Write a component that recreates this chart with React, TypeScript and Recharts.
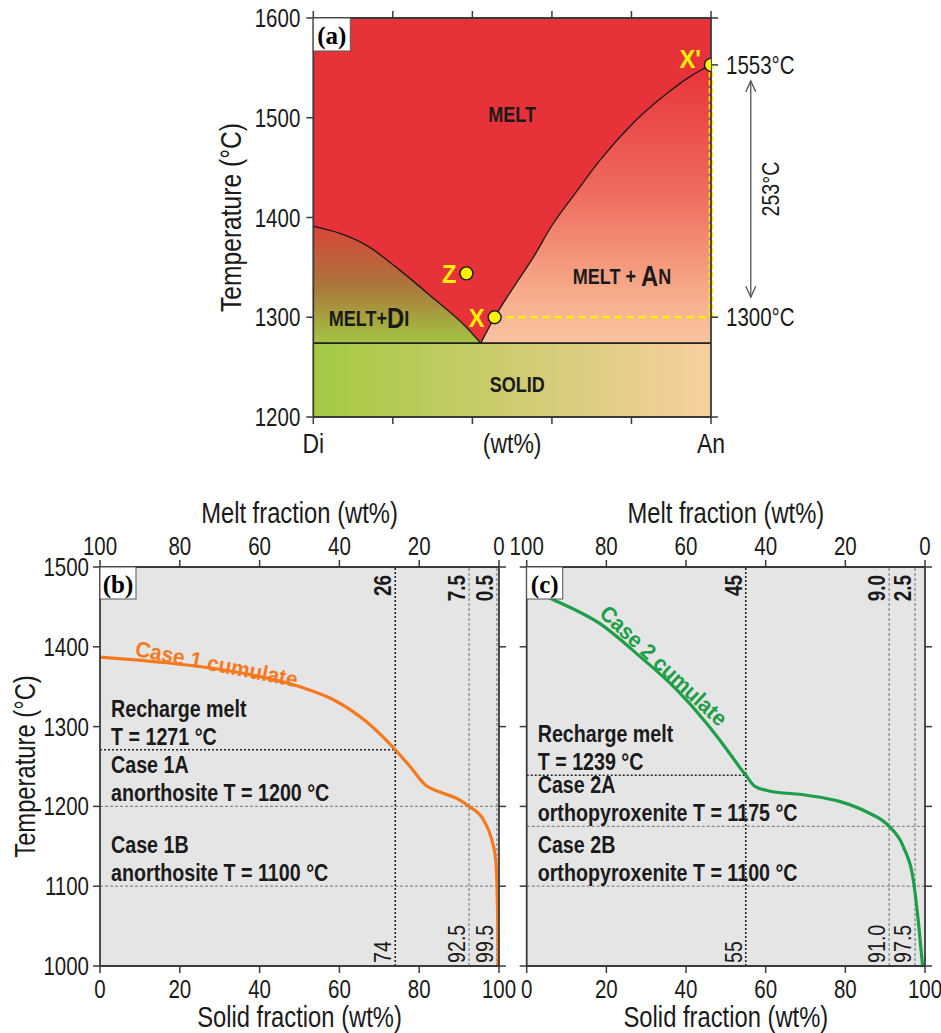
import React from 'react';
import {
  ComposedChart, Area, Line, Scatter, XAxis, YAxis,
  ReferenceArea, ReferenceLine, ReferenceDot,
} from 'recharts';

const SANS = '"Liberation Sans", Arial, sans-serif';
const SERIF = '"Liberation Serif", "Times New Roman", serif';
const SQ = 0.82; // squeeze to look like a narrow face
const INK = '#1a1a1a';
const FRAME = '#3a3a3a';
const YELLOW = '#fff200';

// ---- (a) Di-An binary, composition in wt% An ----
const compTicks = [0, 20, 40, 60, 80, 100];
const tempTicksA = [1200, 1300, 1400, 1500, 1600];
const endMembers = ['Di', 'An'];
const solidusT = 1274;
const diLiquidus = [
  { x: 0, t: 1391 }, { x: 6.7, t: 1384 }, { x: 13.4, t: 1372 }, { x: 21.8, t: 1347 },
  { x: 30.2, t: 1319 }, { x: 38.5, t: 1290 }, { x: 42.1, t: 1274 },
];
const anLiquidus = [
  { x: 42.1, t: 1274 }, { x: 45.6, t: 1300 }, { x: 50, t: 1328 }, { x: 55.3, t: 1360 },
  { x: 60, t: 1392 }, { x: 66, t: 1425 }, { x: 72, t: 1457 }, { x: 80, t: 1493 },
  { x: 88.8, t: 1524 }, { x: 95, t: 1542 }, { x: 100, t: 1553 },
];
const phasePoints = [
  { name: "X'", x: 100, t: 1553 },
  { name: 'X', x: 45.6, t: 1300 },
  { name: 'Z', x: 38.5, t: 1344 },
];

// ---- (b), (c) crystallisation paths ----
const fracTicks = [0, 20, 40, 60, 80, 100];
const tempTicksB = [1000, 1100, 1200, 1300, 1400, 1500];

const case1Curve = [
  { s: 0, t: 1387 }, { s: 8, t: 1384 }, { s: 16.7, t: 1380 }, { s: 33.4, t: 1369 },
  { s: 50.1, t: 1350 }, { s: 58.4, t: 1334 }, { s: 66.8, t: 1306 }, { s: 74, t: 1271 },
  { s: 77.7, t: 1250 }, { s: 81.5, t: 1227 }, { s: 85.2, t: 1218 }, { s: 89.4, t: 1210 },
  { s: 92.5, t: 1200 }, { s: 96.1, t: 1183 }, { s: 98.2, t: 1158 }, { s: 99.2, t: 1132 },
  { s: 99.5, t: 1100 }, { s: 99.7, t: 1050 }, { s: 99.8, t: 1000 },
];
const case1Marks = [74, 92.5, 99.5];
const case1MarksMelt = ['26', '7.5', '0.5'];
const case1MarksSolid = ['74', '92.5', '99.5'];
const case1Levels = [1271, 1200, 1100];
const case1LevelText = [
  ['Recharge melt', 'T = 1271 °C'],
  ['Case 1A', 'anorthosite T = 1200 °C'],
  ['Case 1B', 'anorthosite T = 1100 °C'],
];

const case2Curve = [
  { s: 0, t: 1474 }, { s: 6.7, t: 1459 }, { s: 18.4, t: 1429 }, { s: 28.4, t: 1388 },
  { s: 37.7, t: 1346 }, { s: 45.2, t: 1304 }, { s: 48.5, t: 1283 }, { s: 55, t: 1239 },
  { s: 57.3, t: 1225 }, { s: 60.3, t: 1220 }, { s: 70.3, t: 1214 }, { s: 78.7, t: 1206 },
  { s: 85.4, t: 1193 }, { s: 91, t: 1175 }, { s: 94.6, t: 1149 }, { s: 97.1, t: 1107 },
  { s: 98.3, t: 1057 }, { s: 99.4, t: 1000 },
];
const case2Marks = [55, 91, 97.5];
const case2MarksMelt = ['45', '9.0', '2.5'];
const case2MarksSolid = ['55', '91.0', '97.5'];
const case2Levels = [1239, 1175, 1100];
const case2LevelText = [
  ['Recharge melt', 'T = 1239 °C'],
  ['Case 2A', 'orthopyroxenite T = 1175 °C'],
  ['Case 2B', 'orthopyroxenite T = 1100 °C'],
];

const phaseTable = [
  ...diLiquidus.map((p) => ({ x: p.x, di: [solidusT, p.t] })),
  ...anLiquidus.map((p) => ({ x: p.x, an: [solidusT, p.t] })),
];

const axisLine = { stroke: FRAME, strokeWidth: 1.8 };
const tickLine = { stroke: FRAME, strokeWidth: 1.5 };

// squeezed text
function nt(x: number, y: number, text: React.ReactNode, o: any = {}) {
  const { size = 24, weight = 'normal', anchor = 'middle', rotate = 0, base = 'auto', fill = INK, family = SANS, sx = SQ } = o;
  return (
    <text transform={`translate(${x},${y}) rotate(${rotate}) scale(${sx},1)`} textAnchor={anchor}
      dominantBaseline={base} fontFamily={family} fontSize={size} fontWeight={weight} fill={fill}>{text}</text>
  );
}

const tickText = (size: number, fmt: (v: number) => string) => (p: any) => {
  const s = fmt(p.payload.value);
  if (!s) return <g />;
  const va = p.verticalAnchor;
  const y = va === 'start' ? p.y + 0.72 * size : va === 'end' ? p.y : p.y + 0.36 * size;
  return nt(p.x, y, s, { size, anchor: p.textAnchor });
};

const axisTitle = (text: string, size: number, place: string, gap: number) => (p: any) => {
  const vb = p.viewBox;
  if (place === 'left') {
    return nt(vb.x + vb.width - gap, vb.y + vb.height / 2, text, { size, rotate: -90, base: 'central' });
  }
  const cy = place === 'bottom' ? vb.y + gap : vb.y + vb.height - gap;
  return nt(vb.x + vb.width / 2, cy, text, { size, base: 'central' });
};

const at = (draw: (x: number, y: number) => React.ReactNode) => (p: any) => draw(p.viewBox.x, p.viewBox.y);

const tagBox = (tag: string, w: number, h: number) => at((x, y) => (
  <g>
    <rect x={x} y={y} width={w} height={h} fill="#fff" stroke="#555" strokeWidth={1} />
    <text x={x + w / 2} y={y + h / 2 + 1} textAnchor="middle" dominantBaseline="central"
      fontFamily={SERIF} fontWeight="bold" fontSize={25} fill="#000">{tag}</text>
  </g>
));

const pointShape = (p: any) => (
  <g>
    <circle cx={p.cx} cy={p.cy} r={6.5} fill={YELLOW} stroke={INK} strokeWidth={1.4} />
    {nt(p.cx - 10, p.cy + (p.payload.name === "X'" ? -6 : 1), p.payload.name,
      { size: 25, weight: 'bold', anchor: 'end', base: 'central', fill: YELLOW, sx: 0.95 })}
  </g>
);

const arrowShape = (p: any) => {
  const x = p.x1;
  const top = Math.min(p.y1, p.y2) + 16;
  const bot = Math.max(p.y1, p.y2) - 20;
  return (
    <g stroke="#555" strokeWidth={1.3} fill="none">
      <line x1={x} y1={top} x2={x} y2={bot} />
      <polyline points={`${x - 5},${top + 11} ${x},${top} ${x + 5},${top + 11}`} />
      <polyline points={`${x - 5},${bot - 11} ${x},${bot} ${x + 5},${bot - 11}`} />
    </g>
  );
};

const arrowLabel = (text: string) => (p: any) => {
  const { x, y, height } = p.viewBox;
  return nt(x + 20, y + height / 2 - 2, text, { size: 24, rotate: -90, base: 'central' });
};

const regionText = (children: React.ReactNode) => at((x, y) =>
  nt(x, y, children, { size: 22, weight: 'bold', base: 'central' }));

function PhasePanel() {
  const [pXp, pX] = phasePoints;
  const rightTicks = [1200, pX.t, pXp.t, 1600];
  return (
    <div style={{ position: 'absolute', left: 0, top: 0 }}>
      <ComposedChart width={941} height={470} data={phaseTable} margin={{ top: 8, right: 150, bottom: 13, left: 213.3 }}>
        <defs>
          <linearGradient id="gAn" x1="0" y1="0" x2="0" y2="1">
            <stop offset="0" stopColor="#e8333a" />
            <stop offset="0.45" stopColor="#ee6a5e" />
            <stop offset="0.8" stopColor="#f6a888" />
            <stop offset="1" stopColor="#f9c5a2" />
          </linearGradient>
          <linearGradient id="gDi" x1="0" y1="0" x2="0" y2="1">
            <stop offset="0" stopColor="#d8463a" />
            <stop offset="0.5" stopColor="#ab753b" />
            <stop offset="1" stopColor="#a4c542" />
          </linearGradient>
          <linearGradient id="gSolid" x1="0" y1="0" x2="1" y2="0">
            <stop offset="0" stopColor="#a2ca40" />
            <stop offset="1" stopColor="#f8cf9f" />
          </linearGradient>
        </defs>
        <XAxis dataKey="x" type="number" domain={[0, 100]} allowDataOverflow ticks={compTicks} interval={0}
          height={40} tickSize={7} tickMargin={9} axisLine={axisLine} tickLine={tickLine}
          tick={tickText(28, (v) => (v === 0 ? endMembers[0] : v === 100 ? endMembers[1] : ''))}
          label={axisTitle('(wt%)', 28, 'bottom', 26)} />
        <XAxis xAxisId="top" dataKey="x" orientation="top" type="number" domain={[0, 100]} allowDataOverflow
          ticks={compTicks} interval={0} height={10} tickSize={7} axisLine={axisLine} tickLine={tickLine}
          tick={tickText(20, () => '')} />
        <YAxis dataKey="t" type="number" domain={[1200, 1600]} allowDataOverflow ticks={tempTicksA} interval={0}
          width={100} tickSize={7} tickMargin={6} axisLine={axisLine} tickLine={tickLine}
          tick={tickText(25, (v) => String(v))}
          label={axisTitle('Temperature (°C)', 30, 'left', 83)} />
        <YAxis yAxisId="r" orientation="right" type="number" domain={[1200, 1600]} allowDataOverflow ticks={rightTicks}
          interval={0} width={80} tickSize={7} tickMargin={8} axisLine={axisLine} tickLine={tickLine}
          tick={tickText(25, (v) => (v === pX.t || v === pXp.t ? `${v}°C` : ''))} />

        <ReferenceArea x1={0} x2={100} y1={1200} y2={1600} fill="#e8323a" fillOpacity={1} stroke="none" />
        <ReferenceArea x1={0} x2={100} y1={1200} y2={solidusT} fill="url(#gSolid)" fillOpacity={1} stroke="none" />
        <Area dataKey="di" type="monotone" fill="url(#gDi)" fillOpacity={1} stroke={INK} strokeWidth={1.3}
          isAnimationActive={false} dot={false} activeDot={false} />
        <Area dataKey="an" type="monotone" fill="url(#gAn)" fillOpacity={1} stroke={INK} strokeWidth={1.3}
          isAnimationActive={false} dot={false} activeDot={false} />
        <ReferenceLine y={solidusT} stroke={INK} strokeWidth={1.3} />

        <ReferenceLine segment={[{ x: pX.x, y: pX.t }, { x: 100, y: pX.t }]} stroke={YELLOW} strokeWidth={2.6} strokeDasharray="7 5" />
        <ReferenceLine segment={[{ x: 100, y: pX.t }, { x: 100, y: pXp.t }]} stroke={YELLOW} strokeWidth={4.5} strokeDasharray="5 3" />
        <ReferenceLine segment={[{ x: 110, y: pX.t }, { x: 110, y: pXp.t }]} ifOverflow="visible"
          shape={arrowShape} label={arrowLabel(`${pXp.t - pX.t}°C`)} />

        <ReferenceDot x={50} y={1503} r={0} ifOverflow="visible" label={regionText('MELT')} />
        <ReferenceDot x={77.6} y={1341} r={0} ifOverflow="visible"
          label={regionText(<>{'MELT + '}<tspan fontSize={29}>A</tspan>N</>)} />
        <ReferenceDot x={14} y={1299} r={0} ifOverflow="visible"
          label={regionText(<>{'MELT+'}<tspan fontSize={29}>D</tspan>I</>)} />
        <ReferenceDot x={51.3} y={1233} r={0} ifOverflow="visible" label={regionText('SOLID')} />

        <Scatter data={phasePoints} dataKey="t" isAnimationActive={false} shape={pointShape} />
        <ReferenceDot x={0} y={1600} r={0} ifOverflow="visible" label={tagBox('(a)', 37, 33)} />
      </ComposedChart>
    </div>
  );
}

const markLabel = (top: string, bottom: string) => (p: any) => {
  const { x, y, height } = p.viewBox;
  return (
    <g>
      {nt(x - 4, y + 8, top, { size: 23, weight: 'bold', anchor: 'end', rotate: -90 })}
      {nt(x - 4, y + height - 3, bottom, { size: 24, anchor: 'start', rotate: -90 })}
    </g>
  );
};

const levelLabel = (lines: string[]) => (p: any) => {
  const { x, y } = p.viewBox;
  return (
    <g>
      {nt(x + 11, y - 33, lines[0], { size: 24, weight: 'bold', anchor: 'start' })}
      {nt(x + 11, y - 5, lines[1], { size: 24, weight: 'bold', anchor: 'start' })}
    </g>
  );
};

function FractionPanel(props: any) {
  const {
    left, width, marginLeft, marginRight, yAxisWidth, yLabels, tag, curve, color,
    caseName, caseAt, caseAngle, marks, marksMelt, marksSolid, levels, levelText,
  } = props;
  return (
    <div style={{ position: 'absolute', left, top: 480 }}>
      <ComposedChart width={width} height={553} data={curve}
        margin={{ top: 42, right: marginRight, bottom: 27, left: marginLeft }}>
        <XAxis dataKey="s" type="number" domain={[0, 100]} allowDataOverflow ticks={fracTicks} interval={0}
          height={40} tickSize={7} tickMargin={7} axisLine={axisLine} tickLine={tickLine}
          tick={tickText(25, (v) => String(v))}
          label={axisTitle('Solid fraction (wt%)', 29, 'bottom', 51)} />
        <XAxis xAxisId="top" dataKey="s" orientation="top" type="number" domain={[0, 100]} allowDataOverflow
          ticks={fracTicks} interval={0} height={45} tickSize={7} tickMargin={5} axisLine={axisLine} tickLine={tickLine}
          tick={tickText(25, (v) => String(100 - v))}
          label={axisTitle('Melt fraction (wt%)', 29, 'top', 54)} />
        <YAxis dataKey="t" type="number" domain={[1000, 1500]} allowDataOverflow ticks={tempTicksB} interval={0}
          width={yAxisWidth} tickSize={7} tickMargin={4} axisLine={axisLine} tickLine={tickLine}
          tick={tickText(25, (v) => (yLabels ? String(v) : ''))}
          label={yLabels ? axisTitle('Temperature (°C)', 29, 'left', 75) : undefined} />
        <YAxis yAxisId="r" orientation="right" type="number" domain={[1000, 1500]} allowDataOverflow ticks={tempTicksB}
          interval={0} width={12} tickSize={7} axisLine={axisLine} tickLine={tickLine} tick={tickText(20, () => '')} />

        <ReferenceArea x1={0} x2={100} y1={1000} y2={1500} fill="#e5e5e5" fillOpacity={1} stroke="none" />

        {levels.map((t: number, i: number) => (
          <ReferenceLine key={`lv${t}`}
            segment={[{ x: 0, y: t }, { x: i === 0 ? marks[0] : 100, y: t }]}
            stroke={i === 0 ? '#222' : '#8a8a8a'} strokeWidth={i === 0 ? 1.6 : 1.3}
            strokeDasharray={i === 0 ? '2 2' : '3 2'} label={levelLabel(levelText[i])} />
        ))}
        {marks.map((s: number, i: number) => (
          <ReferenceLine key={`mk${s}`} x={s}
            stroke={i === 0 ? '#222' : '#8a8a8a'} strokeWidth={i === 0 ? 1.6 : 1.3}
            strokeDasharray={i === 0 ? '2 2' : '3 2'} label={markLabel(marksMelt[i], marksSolid[i])} />
        ))}

        <Line dataKey="t" type="monotone" stroke={color} strokeWidth={3.2} dot={false} activeDot={false}
          isAnimationActive={false} />
        <ReferenceDot x={caseAt.s} y={caseAt.t} r={0} ifOverflow="visible"
          label={at((x, y) => nt(x, y, caseName,
            { size: 22, weight: 'bold', rotate: caseAngle, base: 'central', fill: color, sx: 0.95 }))} />
        <ReferenceDot x={0} y={1500} r={0} ifOverflow="visible" label={tagBox(tag, 36, 32)} />
      </ComposedChart>
    </div>
  );
}

export default function App() {
  return (
    <div style={{ position: 'absolute', left: 0, top: 0, width: 941, height: 1033, background: '#fff', overflow: 'hidden' }}>
      <PhasePanel />
      <FractionPanel left={0} width={520} marginLeft={40} marginRight={9} yAxisWidth={60} yLabels
        tag="(b)" curve={case1Curve} color="#f57a1f" caseName="Case 1 cumulate"
        caseAt={{ s: 29.2, t: 1378 }} caseAngle={11}
        marks={case1Marks} marksMelt={case1MarksMelt} marksSolid={case1MarksSolid}
        levels={case1Levels} levelText={case1LevelText} />
      <FractionPanel left={460} width={481} marginLeft={46.7} marginRight={4} yAxisWidth={20} yLabels={false}
        tag="(c)" curve={case2Curve} color="#1d9e48" caseName="Case 2 cumulate"
        caseAt={{ s: 34.3, t: 1376 }} caseAngle={43}
        marks={case2Marks} marksMelt={case2MarksMelt} marksSolid={case2MarksSolid}
        levels={case2Levels} levelText={case2LevelText} />
    </div>
  );
}
